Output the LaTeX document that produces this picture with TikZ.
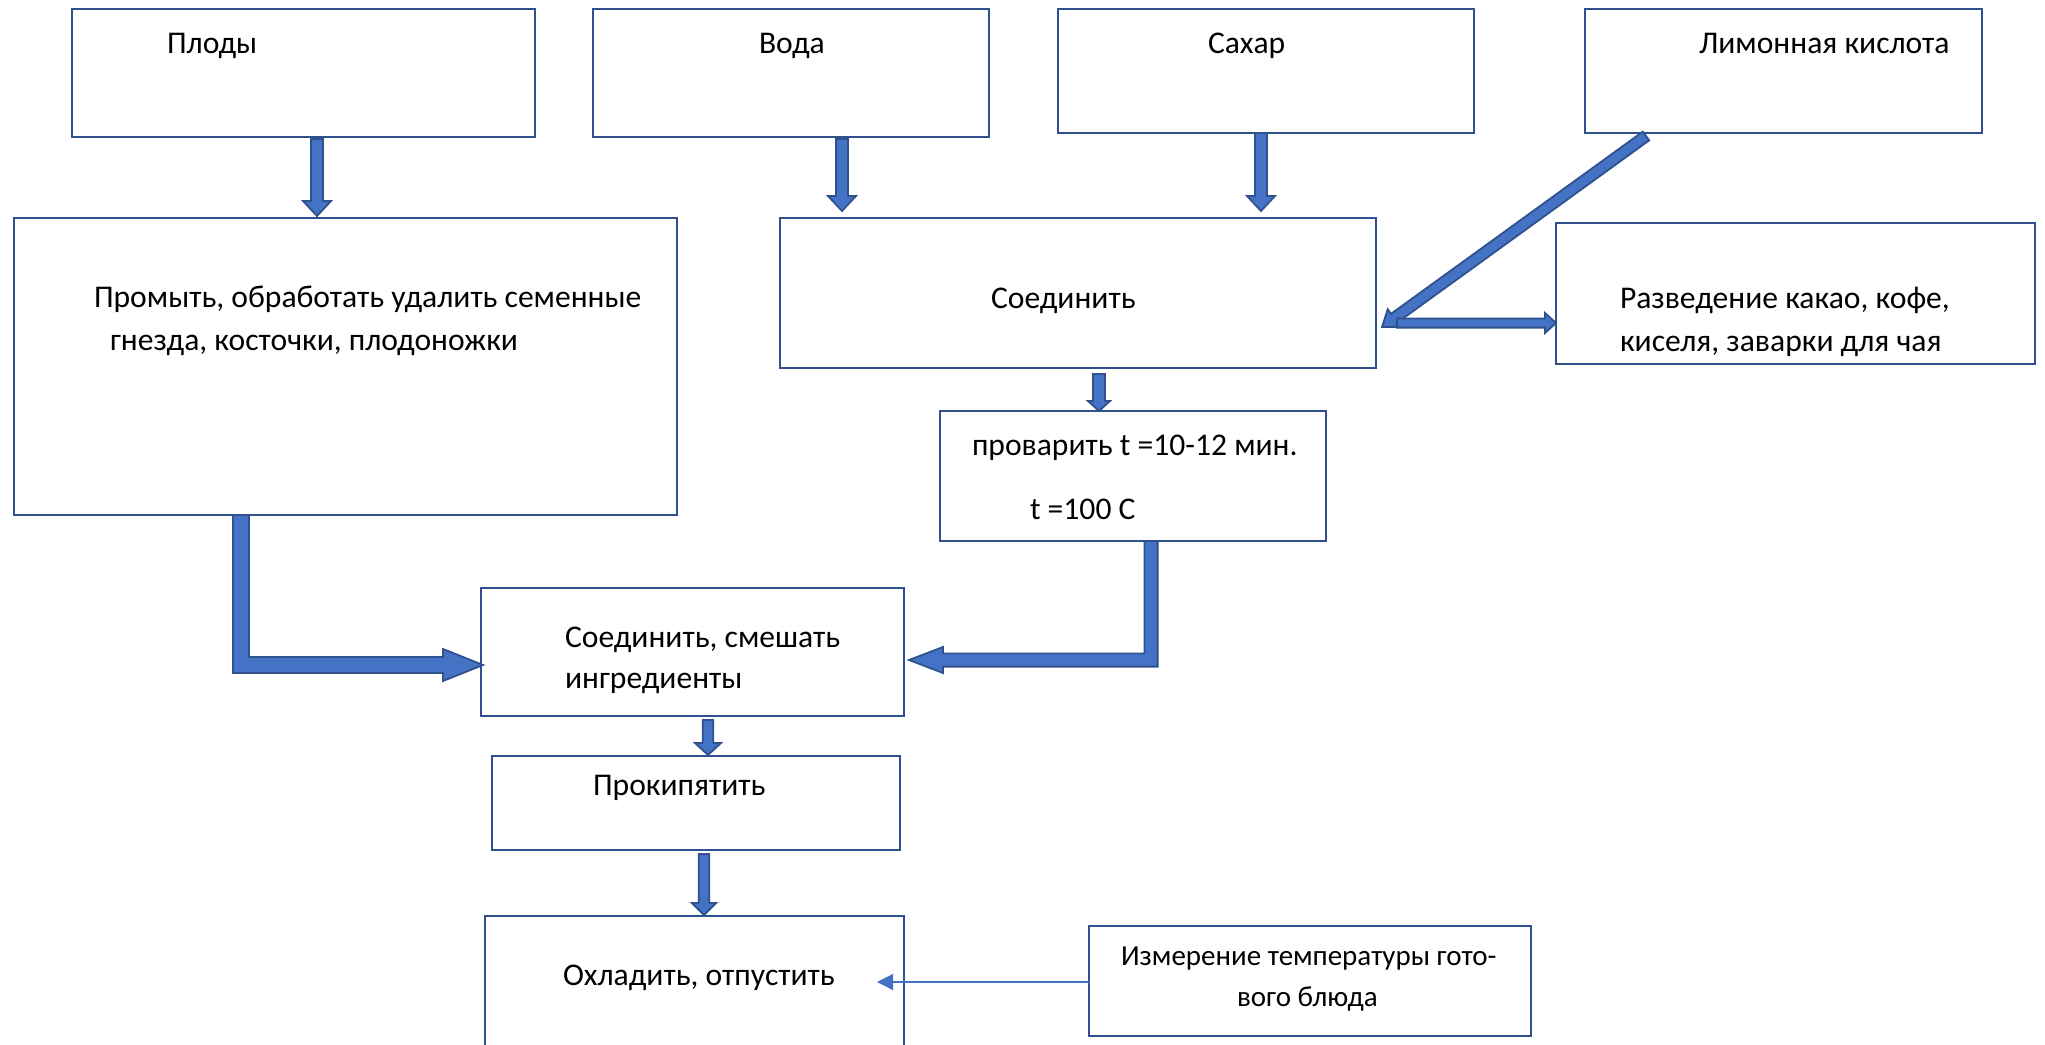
\documentclass[tikz,border=0pt]{standalone}
\usepackage{fontspec}
\setmainfont{Carlito}
\usetikzlibrary{calc,arrows.meta}

\definecolor{boxline}{HTML}{2F528F}
\definecolor{arrowfill}{HTML}{4472C4}
\definecolor{arrowline}{HTML}{2F528F}

\tikzset{
  box/.style={draw=boxline, line width=1.2pt, inner sep=0pt, outer sep=0pt, anchor=north west},
  lbl/.style={anchor=base west, inner sep=0pt, outer sep=0pt, font=\fontsize{15.8}{18}\selectfont},
  smalllbl/.style={lbl, font=\fontsize{14.5}{17}\selectfont},
  barrow/.style={fill=arrowfill, draw=arrowline, line width=0.9pt, line join=miter},
  thinarrow/.style={draw=arrowfill, line width=0.6pt, -{Triangle[length=8pt,width=8pt]}},
}

% rectangle node given by its corners in pixel units
\newcommand\boxnode[5]{%
  \node[box, minimum width={(#4-#2)*0.5pt}, minimum height={(#5-#3)*0.5pt}] (#1) at (#2,#3) {};}

% straight block arrow: [options] from, to, shaft half width, head half width, head length
\newcommand\blockarrow[6][]{%
  \path[barrow,#1] let \p1=(#2), \p2=(#3),
      \n1={atan2(\y2-\y1,\x2-\x1)}, \n2={veclen(\x2-\x1,\y2-\y1)} in
    [shift={(\p1)}, rotate=\n1]
    (0pt,-#4) -- ({\n2-#6},-#4) -- ({\n2-#6},-#5) -- ({\n2*1pt},0pt)
    -- ({\n2-#6},#5) -- ({\n2-#6},#4) -- (0pt,#4) -- cycle;}

% block arrow going down from #1 and then sideways to #2
% #3 shaft half width, #4 head half width, #5 head length, #6 direction (1 right, -1 left)
\newcommand\elbowarrow[6]{%
  \path[barrow] let \p1=(#1), \p2=(#2) in
    ({\x1-(#6)*(#3)},\y1) -- ({\x1-(#6)*(#3)},{\y2-#3})
    -- ({\x2-(#6)*(#5)},{\y2-#3}) -- ({\x2-(#6)*(#5)},{\y2-#4})
    -- (\x2,\y2)
    -- ({\x2-(#6)*(#5)},{\y2+#4}) -- ({\x2-(#6)*(#5)},{\y2+#3})
    -- ({\x1+(#6)*(#3)},{\y2+#3}) -- ({\x1+(#6)*(#3)},\y1) -- cycle;}

\begin{document}
\begin{tikzpicture}[x=0.5pt,y=-0.5pt]
\clip (0,0) rectangle (2045,1044);
\fill[white] (0,0) rectangle (2045,1044);

% boxes
\boxnode{plody}{72}{9}{535}{137}
\boxnode{voda}{593}{9}{989}{137}
\boxnode{sakhar}{1058}{9}{1474}{133}
\boxnode{limon}{1585}{9}{1982}{133}
\boxnode{promyt}{14}{218}{677}{515}
\boxnode{soed}{780}{218}{1376}{368}
\boxnode{razv}{1556}{223}{2035}{364}
\boxnode{provar}{940}{411}{1326}{541}
\boxnode{smesh}{481}{588}{904}{716}
\boxnode{prokip}{492}{756}{900}{850}
\boxnode{okhlad}{485}{916}{904}{1070}
\boxnode{izmer}{1089}{926}{1531}{1036}

% labels
\node[lbl] (tplody) at (167,53) {Плоды};
\node[lbl] (tvoda) at (759,53) {Вода};
\node[lbl] (tsakhar) at (1208,53) {Сахар};
\node[lbl] (tlimon) at (1699,53) {Лимонная кислота};
\node[lbl] (tpromyt1) at (94,307) {Промыть, обработать удалить семенные};
\node[lbl] (tpromyt2) at (110,350) {гнезда, косточки, плодоножки};
\node[lbl] (tsoed) at (991,308) {Соединить};
\node[lbl] (trazv1) at (1620,308) {Разведение какао, кофе,};
\node[lbl] (trazv2) at (1620,351) {киселя, заварки для чая};
\node[lbl] (tprovar1) at (972,455) {проварить t =10-12 мин.};
\node[lbl] (tprovar2) at (1030,519) {t =100 C};
\node[lbl] (tsmesh1) at (565,647) {Соединить, смешать};
\node[lbl] (tsmesh2) at (565,688) {ингредиенты};
\node[lbl] (tprokip) at (593,795) {Прокипятить};
\node[lbl] (tokhlad) at (563,985) {Охладить, отпустить};
\node[smalllbl] (tizmer1) at (1121,965) {Измерение температуры гото-};
\node[smalllbl] (tizmer2) at (1237,1006) {вого блюда};

% vertical and horizontal guides for the connectors
\coordinate (xa) at (317,0);
\coordinate (xb) at (842,0);
\coordinate (xc) at (1261,0);
\coordinate (xd) at (1646,0);
\coordinate (xe) at (1099,0);
\coordinate (xf) at (241,0);
\coordinate (xg) at (1151,0);
\coordinate (xh) at (708,0);
\coordinate (xi) at (704,0);
\coordinate (ya) at (0,665);
\coordinate (yb) at (0,660);
\coordinate (yc) at (0,982);
\coordinate (junction) at (1382,327);
\coordinate (branch) at (1397,323);
\coordinate (cooltip) at (877,982);

% connectors
\blockarrow{$(plody.south -| xa)+(0,2)$}{$(promyt.north -| xa)+(0,-2)$}{3pt}{7pt}{7.5pt}
\blockarrow{$(voda.south -| xb)+(0,2)$}{$(soed.north -| xb)+(0,-7)$}{3pt}{7pt}{7.5pt}
\blockarrow{$(sakhar.south -| xc)+(0,0)$}{$(soed.north -| xc)+(0,-7)$}{3pt}{7pt}{7.5pt}
\blockarrow{$(limon.south -| xd)+(0,3)$}{junction}{2.7pt}{5.5pt}{7.5pt}
\blockarrow{branch}{razv.west |- branch}{2.3pt}{5pt}{5.5pt}
\blockarrow{$(soed.south -| xe)+(0,6)$}{provar.north -| xe}{3pt}{5.5pt}{5pt}
\elbowarrow{promyt.south -| xf}{$(smesh.west |- ya)+(2,0)$}{4pt}{8pt}{20pt}{1}
\elbowarrow{provar.south -| xg}{$(smesh.east |- yb)+(5,0)$}{3.3pt}{6.5pt}{17pt}{-1}
\blockarrow{$(smesh.south -| xh)+(0,4)$}{$(prokip.north -| xh)+(0,-1)$}{2.6pt}{6.5pt}{6pt}
\blockarrow{$(prokip.south -| xi)+(0,4)$}{$(okhlad.north -| xi)+(0,-1)$}{2.6pt}{6pt}{6pt}
\draw[thinarrow] (izmer.west |- yc) -- (cooltip);
\end{tikzpicture}
\end{document}
